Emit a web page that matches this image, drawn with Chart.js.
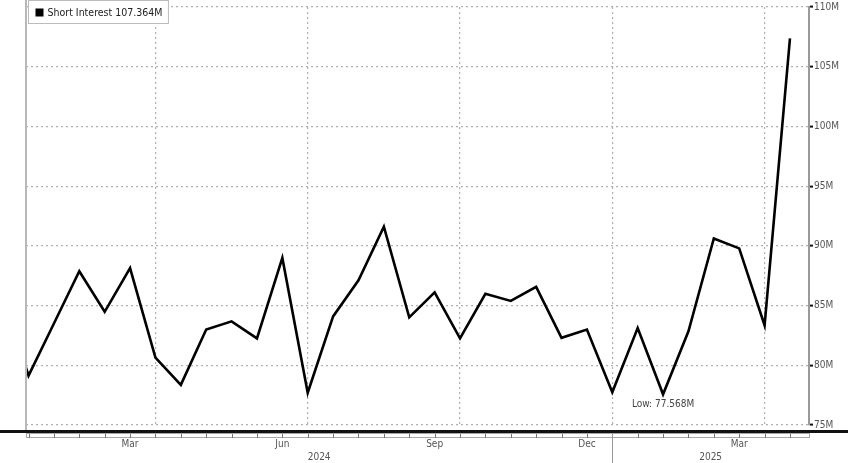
<!DOCTYPE html>
<html>
<head>
<meta charset="utf-8">
<script src="https://cdn.jsdelivr.net/npm/chart.js@4.4.1/dist/chart.umd.min.js"></script>
<style>
  html, body { margin: 0; padding: 0; background: #fff; }
  #wrap { width: 848px; height: 463px; position: relative; }
</style>
</head>
<body>
<div id="wrap"><canvas id="c"></canvas></div>
<script>
// semi-monthly short interest settlement dates, first one sits just left of the frame
const periods = [
  '2023-12-29', '2024-01-12', '2024-01-31', '2024-02-15', '2024-02-29', '2024-03-15',
  '2024-03-28', '2024-04-15', '2024-04-30', '2024-05-15', '2024-05-31', '2024-06-14',
  '2024-06-28', '2024-07-15', '2024-07-31', '2024-08-15', '2024-08-30', '2024-09-13',
  '2024-09-30', '2024-10-15', '2024-10-31', '2024-11-15', '2024-11-29', '2024-12-13',
  '2024-12-31', '2025-01-15', '2025-01-31', '2025-02-14', '2025-02-28', '2025-03-14',
  '2025-03-31', '2025-04-15'
];
// millions of shares
const shortInterest = [
  85.8, 79.13, 83.5, 87.87, 84.48, 88.14,
  80.64, 78.36, 83.0, 83.68, 82.25, 88.99,
  77.70, 84.09, 87.12, 91.61, 84.01, 86.10,
  82.25, 85.99, 85.39, 86.57, 82.30, 82.99,
  77.75, 83.12, 77.568, 82.85, 90.62, 89.79,
  83.35, 107.364
];
const seriesName = 'Short Interest';
const yTicks = [75, 80, 85, 90, 95, 100, 105, 110];
// positions are period indexes (index 0 = '2024-01-12')
const monthLabels = ['Mar', 'Jun', 'Sep', 'Dec', 'Mar'];
const monthLabelAt = [4, 10, 16, 22, 28];
const quarterLineAt = [5, 11, 17, 23, 29];
const years = ['2024', '2025'];
const yearBreakAt = 23;
const xMin = -0.1, xMax = 30.75;

const points = shortInterest.map((v, i) => ({ x: i - 1, y: v }));
const FONT = '"DejaVu Sans Condensed", "DejaVu Sans", sans-serif';
const GRID = '#b0b0b0';
const fmt = v => v.toFixed(3) + 'M';

const frame = {
  id: 'frame',
  beforeDraw(chart) {
    const ctx = chart.ctx;
    ctx.save();
    ctx.fillStyle = '#fff';
    ctx.fillRect(0, 0, chart.width, chart.height);
    ctx.restore();
  },
  afterDraw(chart) {
    const ctx = chart.ctx, a = chart.chartArea, xs = chart.scales.x, ys = chart.scales.y;
    ctx.save();
    // left frame edge
    ctx.strokeStyle = '#b8b8b8'; ctx.lineWidth = 2;
    ctx.beginPath(); ctx.moveTo(a.left, 0); ctx.lineTo(a.left, a.bottom + 5); ctx.stroke();
    // heavy rule under the plot
    ctx.strokeStyle = '#111'; ctx.lineWidth = 3;
    ctx.beginPath(); ctx.moveTo(0, a.bottom + 6.5); ctx.lineTo(chart.width, a.bottom + 6.5); ctx.stroke();
    // time band with small ticks
    ctx.strokeStyle = '#a8a8a8'; ctx.lineWidth = 1;
    ctx.strokeRect(a.left + 0.5, a.bottom + 8.5, a.right - a.left, 4);
    ctx.strokeStyle = '#777';
    for (let i = 0; i < shortInterest.length - 1; i++) {
      const x = Math.round(xs.getPixelForValue(i)) + 0.5;
      ctx.beginPath(); ctx.moveTo(x, a.bottom + 9); ctx.lineTo(x, a.bottom + 13); ctx.stroke();
    }
    // year break + year labels
    const xb = Math.round(xs.getPixelForValue(yearBreakAt)) + 0.5;
    ctx.strokeStyle = '#999';
    ctx.beginPath(); ctx.moveTo(xb, a.bottom + 9); ctx.lineTo(xb, chart.height); ctx.stroke();
    ctx.fillStyle = '#555'; ctx.font = '10px ' + FONT;
    ctx.textAlign = 'center'; ctx.textBaseline = 'middle';
    ctx.fillText(years[0], xs.getPixelForValue((xMin + yearBreakAt) / 2), a.bottom + 32);
    ctx.fillText(years[1], xs.getPixelForValue((yearBreakAt + xMax) / 2), a.bottom + 32);
    // low marker label
    let lo = 1;
    for (let i = 1; i < shortInterest.length; i++) if (shortInterest[i] < shortInterest[lo]) lo = i;
    ctx.fillStyle = '#444';
    ctx.fillText('Low: ' + fmt(shortInterest[lo]), xs.getPixelForValue(lo - 1), ys.getPixelForValue(shortInterest[lo]) + 10);
    // legend box
    const text = seriesName + ' ' + fmt(shortInterest[shortInterest.length - 1]);
    ctx.font = '10.5px ' + FONT;
    const tw = ctx.measureText(text).width;
    const bx = a.left + 2.5, by = 0.5, bw = tw + 25, bh = 23;
    ctx.fillStyle = '#fff'; ctx.fillRect(bx, by, bw, bh);
    ctx.strokeStyle = '#bbb'; ctx.lineWidth = 1; ctx.strokeRect(bx, by, bw, bh);
    ctx.fillStyle = '#000'; ctx.fillRect(bx + 7, by + 8, 8, 8);
    ctx.fillStyle = '#222'; ctx.textAlign = 'left'; ctx.textBaseline = 'middle';
    ctx.fillText(text, bx + 19, by + 12.5);
    ctx.restore();
  }
};

new Chart(document.getElementById('c'), {
  type: 'line',
  data: {
    labels: periods,
    datasets: [{
      label: seriesName,
      data: points,
      borderColor: '#000',
      borderWidth: 2.6,
      pointRadius: 0,
      tension: 0,
      fill: false
    }]
  },
  options: {
    responsive: true,
    maintainAspectRatio: false,
    animation: false,
    events: [],
    layout: { padding: { left: 26, top: 2, right: 0, bottom: 0 } },
    plugins: { legend: { display: false }, tooltip: { enabled: false } },
    scales: {
      x: {
        type: 'linear',
        min: xMin,
        max: xMax,
        afterBuildTicks: s => { s.ticks = quarterLineAt.concat(monthLabelAt).map(v => ({ value: v })); },
        afterFit: s => { s.height = 38; },
        grid: {
          drawTicks: false,
          color: c => quarterLineAt.includes(c.tick && c.tick.value) ? GRID : 'rgba(0,0,0,0)',
          lineWidth: 1.2
        },
        border: { display: false, dash: [2, 3] },
        ticks: {
          autoSkip: false,
          maxRotation: 0,
          padding: 13,
          color: '#555',
          font: { family: FONT, size: 10 },
          callback: v => {
            const k = monthLabelAt.indexOf(v);
            return k >= 0 ? monthLabels[k] : '';
          }
        }
      },
      y: {
        position: 'right',
        min: yTicks[0],
        max: yTicks[yTicks.length - 1],
        afterBuildTicks: s => { s.ticks = yTicks.map(v => ({ value: v })); },
        afterFit: s => { s.width = 39; },
        grid: { color: GRID, lineWidth: 1.2, tickLength: 4, tickColor: '#111', tickWidth: 2 },
        border: { display: true, color: '#9a9a9a', width: 2, dash: [2, 3] },
        ticks: {
          padding: 1,
          color: '#555',
          font: { family: FONT, size: 10 },
          callback: v => v + 'M'
        }
      }
    }
  },
  plugins: [frame]
});
</script>
</body>
</html>
